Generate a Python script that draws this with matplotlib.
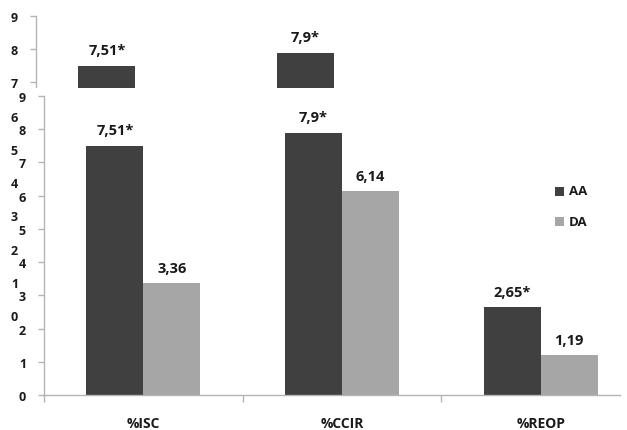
import numpy as np
import matplotlib
matplotlib.use('Agg')
import matplotlib.pyplot as plt
from matplotlib.patches import Rectangle

W, H = 627, 431

categories = ['%ISC', '%CCIR', '%REOP']
series = ['AA', 'DA']
aa_values = [7.51, 7.9, 2.65]
da_values = [3.36, 6.14, 1.19]
aa_labels = ['7,51*', '7,9*', '2,65*']
da_labels = ['3,36', '6,14', '1,19']
yticks = list(range(10))

AA_C = '#404040'
DA_C = '#A6A6A6'
AXIS_C = '#B4B4B4'
TXT_C = '#1A1A1A'
FONT = 'Open Sans'

plt.rcParams['font.family'] = [FONT, 'DejaVu Sans']
plt.rcParams['font.weight'] = 'bold'

fig = plt.figure(figsize=(W / 100, H / 100), dpi=100)
fig.patch.set_facecolor('white')


def fx(px):
    return px / W


def fy(py):
    return 1 - py / H


def draw(dx, dy, z):
    left, right, top, bottom = 44 + dx, 640 + dx, 97 + dy, 396 + dy
    ax = fig.add_axes([fx(left), fy(bottom), (right - left) / W, (bottom - top) / H], zorder=z)
    ax.patch.set_visible(False)
    x = np.arange(len(categories))
    w = 0.287
    ax.bar(x - w / 2, aa_values, w, color=AA_C, zorder=2)
    ax.bar(x + w / 2, da_values, w, color=DA_C, zorder=2)
    ax.set_xlim(-0.5, 2.5)
    ax.set_ylim(0, 9)
    for s in ['top', 'right']:
        ax.spines[s].set_visible(False)
    for s in ['left', 'bottom']:
        ax.spines[s].set_color(AXIS_C)
        ax.spines[s].set_linewidth(1)
    ax.spines['bottom'].set_bounds(-0.5, 2.4)
    ax.set_yticks(yticks)
    ax.set_yticklabels([str(t) for t in yticks], fontsize=9, fontweight='bold', color=TXT_C)
    ax.tick_params(axis='y', length=4, color=AXIS_C, pad=9, width=1)
    ax.set_xticks(x)
    ax.set_xticklabels(categories, fontsize=10, fontweight='bold', color=TXT_C)
    ax.tick_params(axis='x', which='major', length=0, pad=15)
    ax.set_xticks([-0.5, 0.5, 1.5], minor=True)
    ax.tick_params(axis='x', which='minor', length=5, color=AXIS_C, width=1)
    for xi, v, lab in zip(x - w / 2, aa_values, aa_labels):
        ax.annotate(lab, (xi, v), xytext=(0, 8), textcoords='offset points',
                    ha='center', va='baseline', fontsize=10.5, fontweight='bold',
                    color=TXT_C, annotation_clip=False)
    for xi, v, lab in zip(x + w / 2, da_values, da_labels):
        ax.annotate(lab, (xi, v), xytext=(0, 8), textcoords='offset points',
                    ha='center', va='baseline', fontsize=10.5, fontweight='bold',
                    color=TXT_C, annotation_clip=False)
    # legend
    for i, (name, col) in enumerate(zip(series, [AA_C, DA_C])):
        cy = 192 + 30.5 * i + dy
        cx = 559 + dx
        r = Rectangle((fx(cx - 4.5), fy(cy + 4.5)), 9 / W, 9 / H, transform=fig.transFigure,
                      facecolor=col, edgecolor='none', zorder=z + 0.1)
        fig.add_artist(r)
        fig.text(fx(569 + dx), fy(cy), name, ha='left', va='center', fontsize=9.5,
                 fontweight='bold', color=TXT_C, zorder=z + 0.1)
    return ax


# background (shifted copy)
draw(-8, -80, 0)

# white overlay area
cover = Rectangle((fx(19), 0), 1 - fx(19), fy(89), transform=fig.transFigure,
                  facecolor='white', edgecolor='none', zorder=1)
fig.add_artist(cover)

# main chart
draw(0, 0, 2)

fig.savefig('out.png', dpi=100, facecolor='white')
